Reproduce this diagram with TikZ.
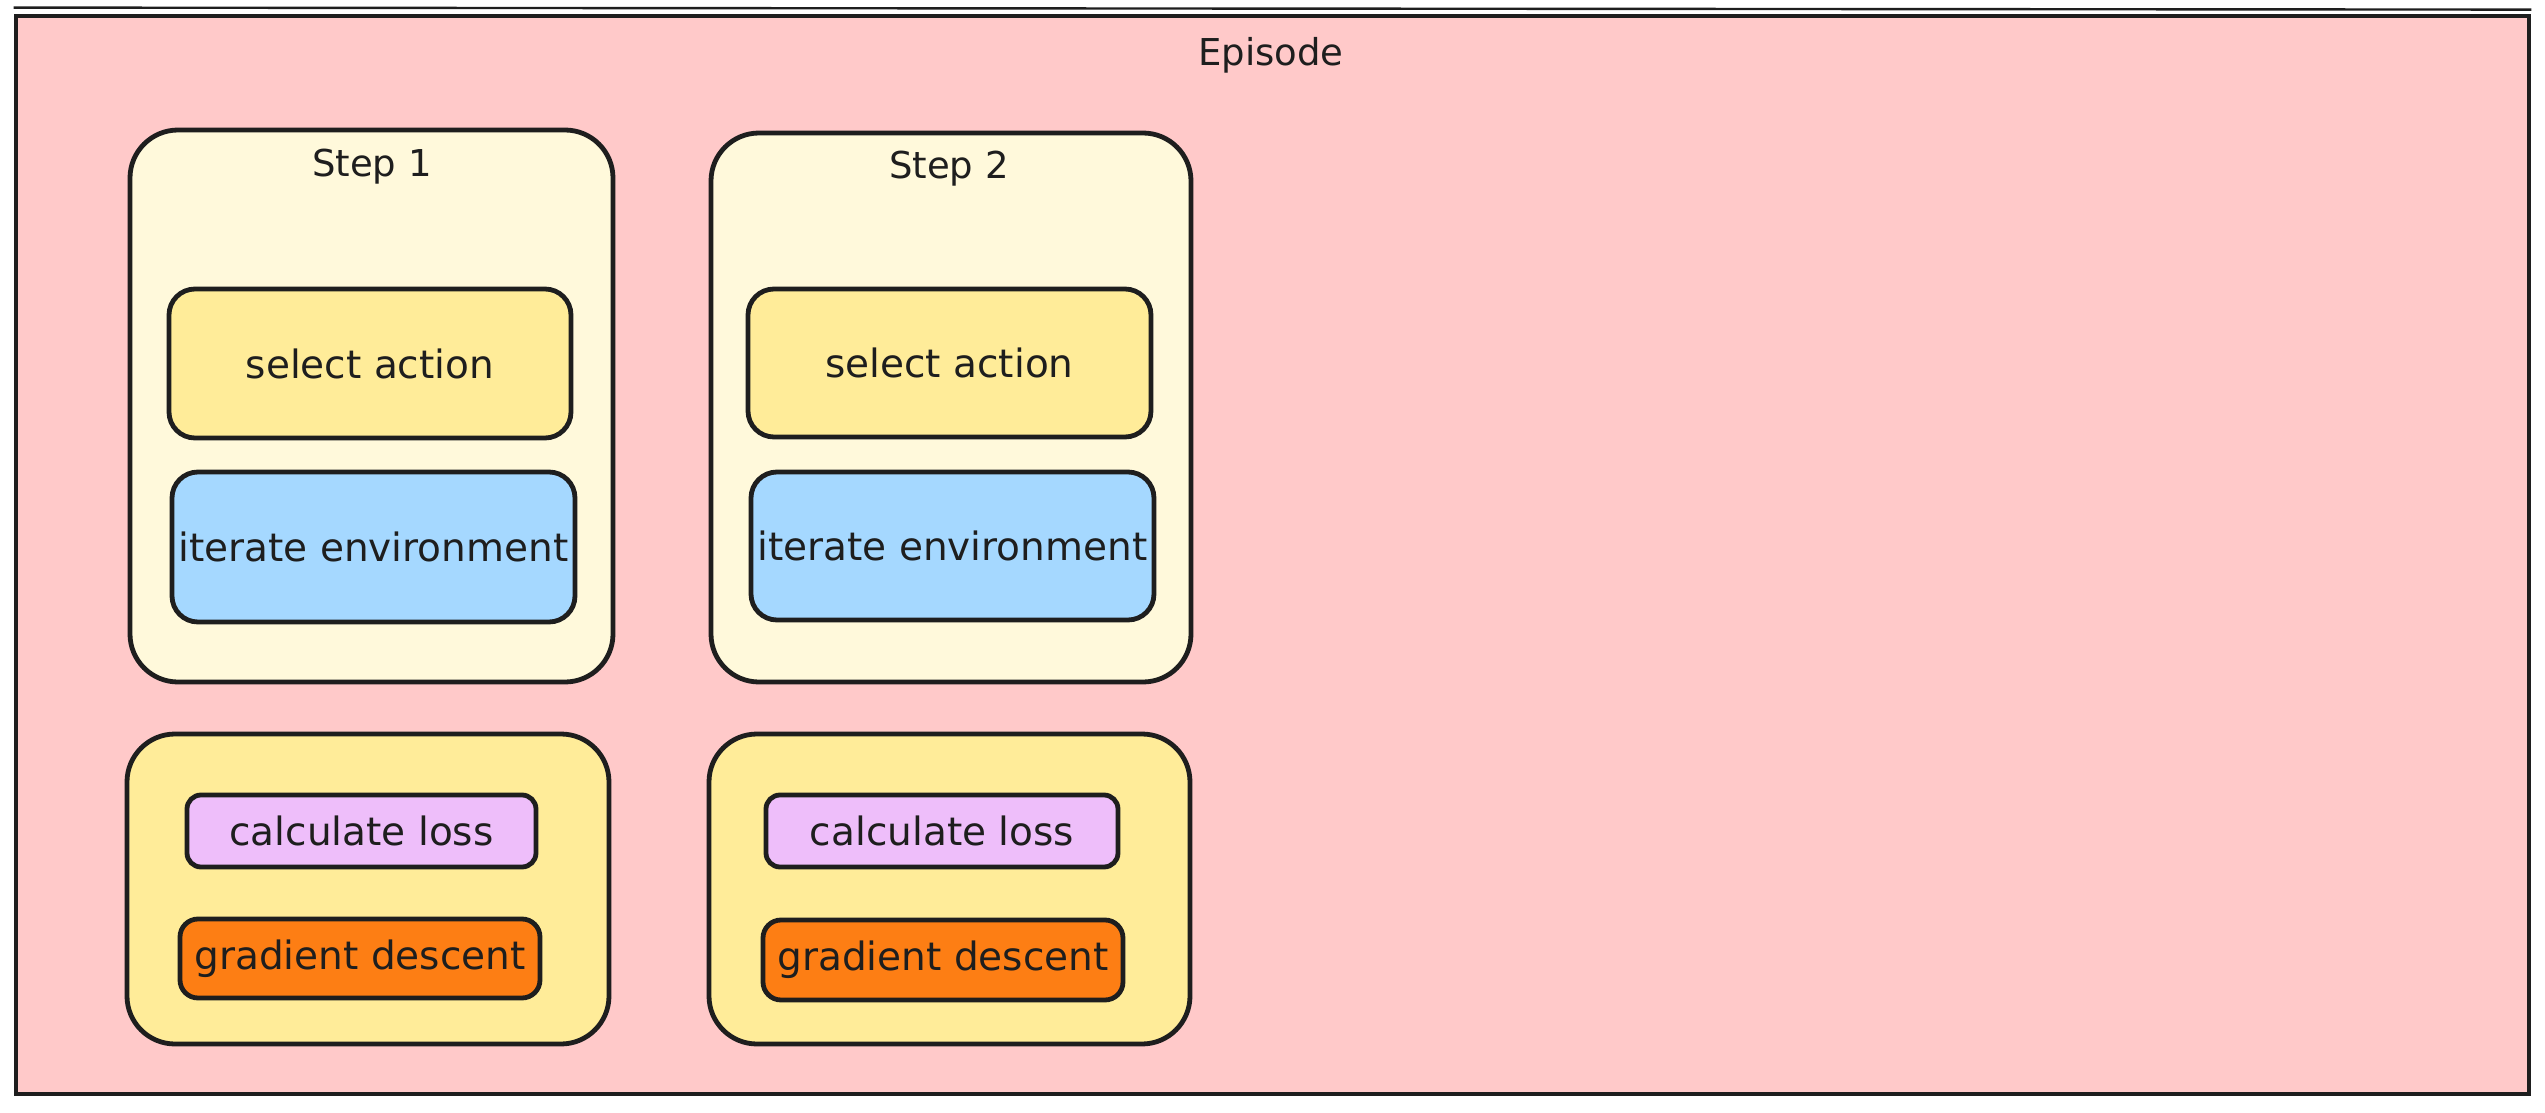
\documentclass[tikz,border=0pt]{standalone}
\usepackage{fontspec}
\setmainfont{DejaVu Sans}
\definecolor{ink}{HTML}{1E1E1E}
\definecolor{epi}{HTML}{FFC9C9}
\definecolor{stepbg}{HTML}{FFF9DB}
\definecolor{ylw}{HTML}{FFEC99}
\definecolor{blu}{HTML}{A5D8FF}
\definecolor{pur}{HTML}{EEBEFA}
\definecolor{org}{HTML}{FD7E14}
\begin{document}
\begin{tikzpicture}[x=0.5pt,y=-0.5pt,
  every node/.style={font=\fontsize{19.5}{23}\selectfont, text=ink},
  frame/.style={draw=ink, line width=2.4pt, rectangle, inner sep=0pt},
  episodebox/.style={frame, fill=epi},
  stepbox/.style={frame, fill=stepbg, rounded corners=24pt},
  trainbox/.style={frame, fill=ylw, rounded corners=24pt},
  actbox/.style={frame, fill=ylw, rounded corners=13pt},
  envbox/.style={frame, fill=blu, rounded corners=13pt},
  lossbox/.style={frame, fill=pur, rounded corners=7pt},
  gradbox/.style={frame, fill=org, rounded corners=9pt},
  title/.style={inner sep=0pt, font=\fontsize{18.5}{22}\selectfont}
]
\useasboundingbox (0,0) rectangle (2545,1113);
% episode
\node[episodebox, minimum width=1256.5pt, minimum height=539pt] (episode) at (1272.5,555) {};
\draw[ink, line width=1.2pt] ([yshift=3pt]episode.north west) -- ([yshift=2pt]episode.north east);
\node[title] (episodelbl) at (1271,55) {Episode};
% step 1
\node[stepbox, minimum width=241.5pt, minimum height=276pt] (step1) at (371.5,406) {};
\node[title] (step1lbl) at (372,167) {Step 1};
\node[actbox, minimum width=201pt, minimum height=74.5pt] (sel1) at (370,363.5) {select action};
\node[envbox, minimum width=201.5pt, minimum height=75pt] (it1) at (373.5,547) {iterate environment};
% training 1
\node[trainbox, minimum width=241pt, minimum height=155pt] (low1) at (368,889) {};
\node[lossbox, minimum width=174.5pt, minimum height=36pt] (cl1) at (361.5,831) {calculate loss};
\node[gradbox, minimum width=180pt, minimum height=39.5pt] (gd1) at (360,958.5) {gradient descent};
% step 2
\node[stepbox, minimum width=240pt, minimum height=274.5pt] (step2) at (951,407.5) {};
\node[title] (step2lbl) at (949,169) {Step 2};
\node[actbox, minimum width=201.5pt, minimum height=74pt] (sel2) at (949.5,363) {select action};
\node[envbox, minimum width=201.5pt, minimum height=74pt] (it2) at (952.5,546) {iterate environment};
% training 2
\node[trainbox, minimum width=240.5pt, minimum height=155pt] (low2) at (949.5,889) {};
\node[lossbox, minimum width=176pt, minimum height=36pt] (cl2) at (942,831) {calculate loss};
\node[gradbox, minimum width=180pt, minimum height=40pt] (gd2) at (943,960) {gradient descent};
\end{tikzpicture}
\end{document}
